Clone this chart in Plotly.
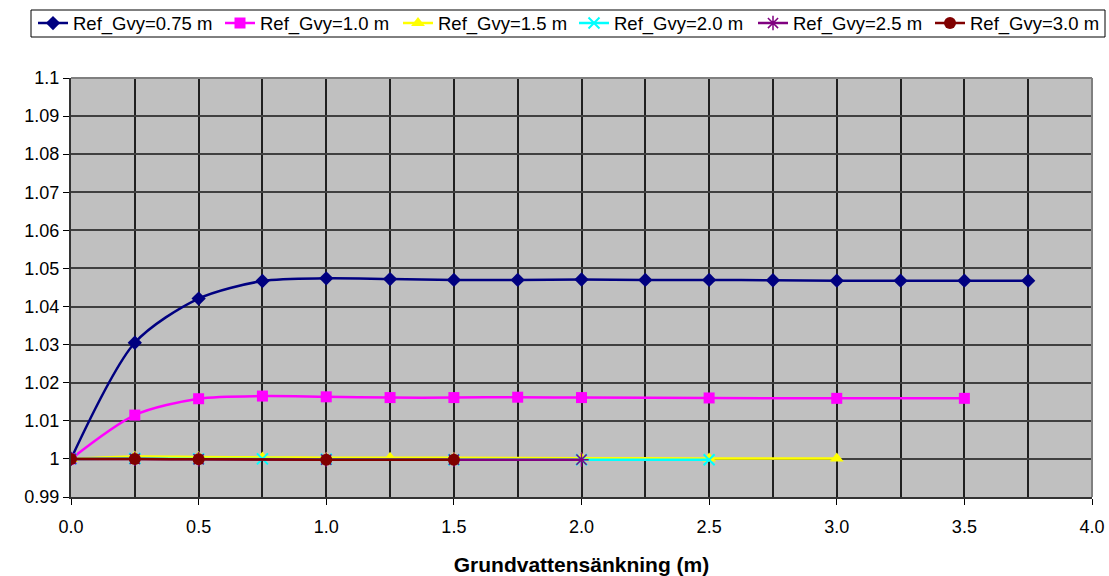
import plotly.graph_objects as go

x_075 = [0, 0.25, 0.5, 0.75, 1.0, 1.25, 1.5, 1.75, 2.0, 2.25, 2.5, 2.75, 3.0, 3.25, 3.5, 3.75]
y_075 = [1.0, 1.0305, 1.0421, 1.0467, 1.0474, 1.0472, 1.0470, 1.0470, 1.0471, 1.0470, 1.0470, 1.0469, 1.0468, 1.0468, 1.0468, 1.0468]

x_10 = [0, 0.25, 0.5, 0.75, 1.0, 1.25, 1.5, 1.75, 2.0, 2.5, 3.0, 3.5]
y_10 = [1.0, 1.0115, 1.0158, 1.0165, 1.0163, 1.0161, 1.0161, 1.0162, 1.0161, 1.0160, 1.0159, 1.0159]

x_15 = [0, 0.25, 0.5, 0.75, 1.0, 1.25, 1.5, 2.0, 2.5, 3.0]
y_15 = [1.0, 1.0006, 1.0005, 1.0004, 1.0003, 1.0003, 1.0003, 1.0002, 1.0001, 1.0001]

x_20 = [0, 0.25, 0.5, 0.75, 1.0, 1.5, 2.0, 2.5]
y_20 = [1.0, 1.0001, 1.0, 1.0, 0.9999, 0.9998, 0.9998, 0.9998]

x_25 = [0, 0.25, 0.5, 1.0, 1.5, 2.0]
y_25 = [1.0, 1.0, 0.9999, 0.9998, 0.9998, 0.9998]

x_30 = [0, 0.25, 0.5, 1.0, 1.5]
y_30 = [1.0, 1.0, 0.9999, 0.9998, 0.9998]

names = ["Ref_Gvy=0.75 m", "Ref_Gvy=1.0 m", "Ref_Gvy=1.5 m", "Ref_Gvy=2.0 m", "Ref_Gvy=2.5 m", "Ref_Gvy=3.0 m"]
y_tickvals = [0.99, 1.0, 1.01, 1.02, 1.03, 1.04, 1.05, 1.06, 1.07, 1.08, 1.09, 1.1]
y_ticktext = ["0.99", "1", "1.01", "1.02", "1.03", "1.04", "1.05", "1.06", "1.07", "1.08", "1.09", "1.1"]
x_tickvals = [0, 0.5, 1.0, 1.5, 2.0, 2.5, 3.0, 3.5, 4.0]
x_ticktext = ["0.0", "0.5", "1.0", "1.5", "2.0", "2.5", "3.0", "3.5", "4.0"]

series = [
    (x_075, y_075, "#000080", dict(symbol="diamond", size=11)),
    (x_10, y_10, "#FF00FF", dict(symbol="square", size=11)),
    (x_15, y_15, "#FFFF00", dict(symbol="triangle-up", size=12)),
    (x_20, y_20, "#00FFFF", dict(symbol="x-thin-open", size=11, line=dict(width=2, color="#00FFFF"))),
    (x_25, y_25, "#800080", dict(symbol="asterisk-open", size=12, line=dict(width=1.5, color="#800080"))),
    (x_30, y_30, "#800000", dict(symbol="circle", size=12)),
]

# pixel x of legend line starts (layout only)
legend_px = [38, 225, 403, 579, 758, 935]
W, H = 1109, 576

fig = go.Figure()
legend_layouts = {}
for i, ((xs, ys, col, mk), nm) in enumerate(zip(series, names)):
    mk = dict(mk)
    mk.setdefault("color", col)
    lname = "legend" if i == 0 else f"legend{i+1}"
    fig.add_trace(go.Scatter(
        x=xs, y=ys, name=nm, mode="lines+markers",
        line=dict(color=col, width=2.5, shape="spline", smoothing=0.8),
        marker=mk, legend=lname,
    ))
    legend_layouts[lname] = dict(
        orientation="h",
        xref="container", yref="container",
        x=(legend_px[i] - 5) / W, y=1 - 23.5 / H, xanchor="left", yanchor="middle",
        borderwidth=0, bgcolor="rgba(0,0,0,0)",
        font=dict(size=18.5),
        itemwidth=30,
    )

fig.update_layout(
    width=W, height=H,
    margin=dict(l=71, r=17, t=78, b=79, autoexpand=False),
    paper_bgcolor="white",
    plot_bgcolor="#C0C0C0",
    font=dict(family="Liberation Sans, Arial, sans-serif", color="black", size=18),
    showlegend=True,
    **legend_layouts,
    xaxis=dict(
        range=[0, 4], tickvals=x_tickvals, ticktext=x_ticktext,
        showgrid=False, zeroline=False,
        ticks="outside", ticklen=6, tickcolor="black", tickwidth=1,
        ticklabelstandoff=6,
        showline=True, linecolor="#333333", linewidth=2, mirror=False,
        minor=dict(dtick=0.25, tick0=0, showgrid=True, gridcolor="#202020", gridwidth=1.5, ticks=""),
        title=dict(text="<b>Grundvattensänkning (m)</b>", font=dict(size=21), standoff=22),
        tickfont=dict(size=18),
    ),
    yaxis=dict(
        range=[0.99, 1.1], tickvals=y_tickvals, ticktext=y_ticktext,
        showgrid=True, gridcolor="#404040", gridwidth=1.5, zeroline=False,
        ticks="outside", ticklen=6, tickcolor="black",
        showline=True, linecolor="#333333", linewidth=2,
        tickfont=dict(size=18),
    ),
    shapes=[
        dict(type="line", xref="paper", yref="paper", x0=0, x1=1, y0=1, y1=1,
             line=dict(color="#808080", width=2)),
        dict(type="line", xref="paper", yref="paper", x0=1, x1=1, y0=0, y1=1,
             line=dict(color="#808080", width=2)),
        dict(type="rect", xref="paper", yref="paper",
             x0=(31 - 71) / 1021, x1=(1105 - 71) / 1021,
             y0=(H - 79 - 37) / 419, y1=(H - 79 - 10) / 419,
             line=dict(color="black", width=1), fillcolor="rgba(0,0,0,0)", layer="above"),
    ],
)

fig.write_html("out.html")
